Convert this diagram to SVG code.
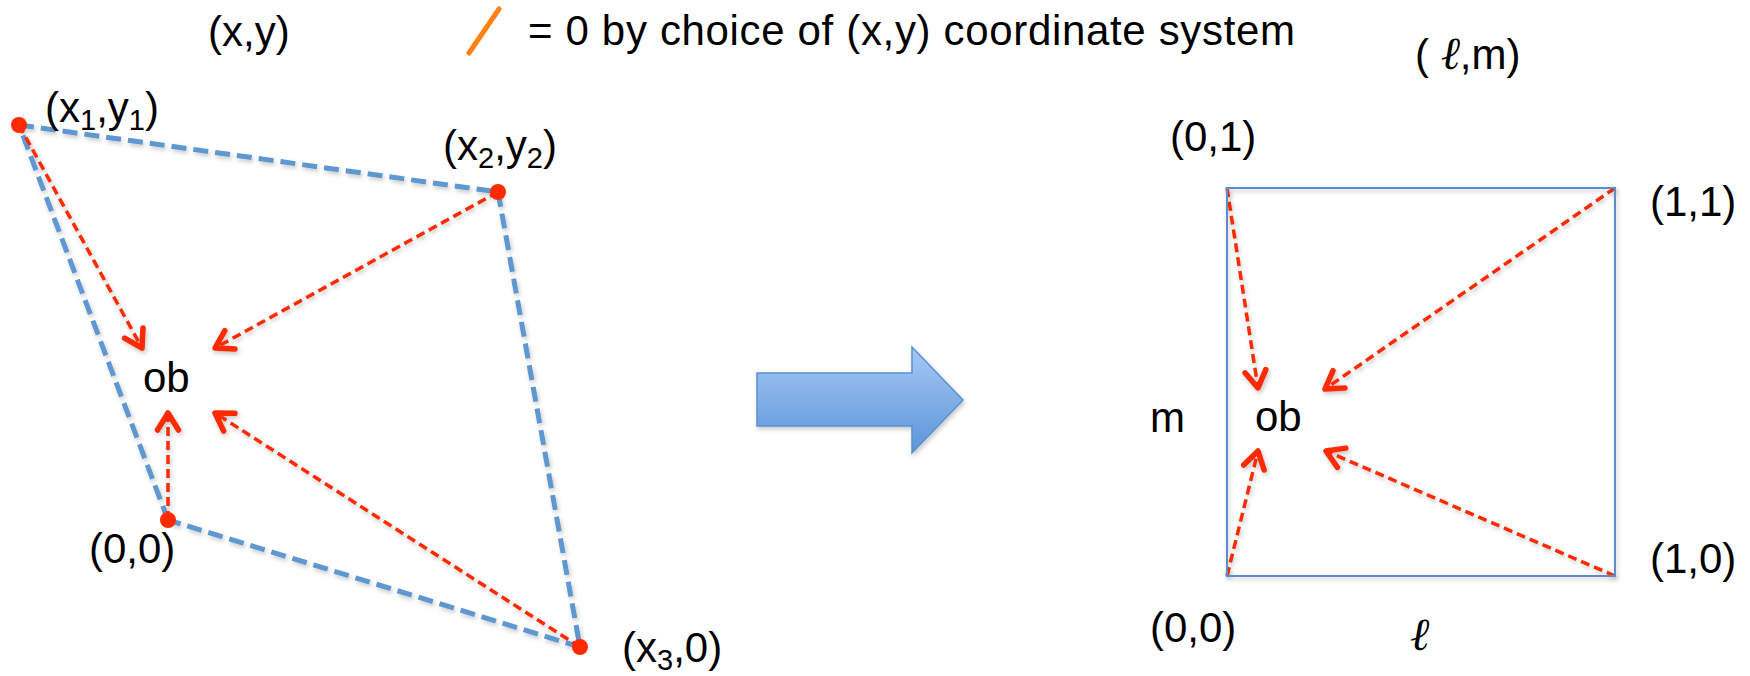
<svg xmlns="http://www.w3.org/2000/svg" width="1750" height="676" viewBox="0 0 1750 676">
<style>
  text { font-family: "Liberation Sans", Arial, sans-serif; font-size: 42px; fill: #000; }
  .sub { font-size: 29px; }
  .ell { font-family: "DejaVu Serif", "Liberation Serif", serif; font-style: italic; font-size: 46px; }
  .quad { fill: none; stroke: #5f97d0; stroke-width: 5; stroke-dasharray: 15 7; }
  .arr { fill: none; stroke: #ff2a00; stroke-width: 3.5; stroke-dasharray: 9 5; marker-end: url(#ah); }
  .dot { fill: #ff2a00; }
</style>
<defs>
  <marker id="ah" viewBox="-24 -16 32 32" refX="0" refY="0" markerWidth="32" markerHeight="32" markerUnits="userSpaceOnUse" orient="auto">
    <path d="M-17,-10.5 L0,0 L-17,10.5" fill="none" stroke="#ff2a00" stroke-width="5.5" stroke-linecap="round" stroke-linejoin="round"/>
  </marker>
  <linearGradient id="bg" x1="0" y1="0" x2="0" y2="1">
    <stop offset="0" stop-color="#a6c8f5"/>
    <stop offset="1" stop-color="#5a96d9"/>
  </linearGradient>
  <filter id="sh" filterUnits="userSpaceOnUse" x="0" y="0" width="1750" height="676">
    <feDropShadow dx="1.5" dy="2.5" stdDeviation="2" flood-color="#000" flood-opacity="0.22"/>
  </filter>
</defs>

<rect width="1750" height="676" fill="#fff"/>

<g id="legend">
  <text x="208" y="46">(x,y)</text>
  <path d="M469,53 L499,9" fill="none" stroke="#ff8214" stroke-width="5" stroke-linecap="round"/>
  <text x="528" y="45" textLength="767" lengthAdjust="spacing">= 0 by choice of (x,y) coordinate system</text>
  <text x="1415" y="69">( <tspan class="ell">ℓ</tspan>,m)</text>
</g>

<g id="connectors" filter="url(#sh)">
  <g id="quadrilateral">
    <line class="quad" x1="19" y1="125" x2="498" y2="192"/>
    <line class="quad" x1="498" y1="192" x2="580" y2="647"/>
    <line class="quad" x1="580" y1="647" x2="168" y2="520"/>
    <line class="quad" x1="168" y1="520" x2="19" y2="125"/>
  </g>
  <line class="arr" x1="19" y1="125" x2="142" y2="348"/>
  <line class="arr" x1="498" y1="192" x2="215" y2="348"/>
  <line class="arr" x1="168" y1="520" x2="168" y2="413"/>
  <line class="arr" x1="580" y1="647" x2="215" y2="413"/>
  <line class="arr" x1="1227" y1="188" x2="1258" y2="388"/>
  <line class="arr" x1="1615" y1="188" x2="1325" y2="389"/>
  <line class="arr" x1="1227" y1="576" x2="1258" y2="451"/>
  <line class="arr" x1="1615" y1="576" x2="1326" y2="451"/>
</g>

<g id="node-x1y1">
  <circle class="dot" cx="19" cy="125" r="8"/>
  <text x="45" y="122">(x<tspan class="sub" dy="8">1</tspan><tspan dy="-8">,y</tspan><tspan class="sub" dy="8">1</tspan><tspan dy="-8">)</tspan></text>
</g>
<g id="node-x2y2">
  <circle class="dot" cx="498" cy="192" r="8"/>
  <text x="443" y="160">(x<tspan class="sub" dy="8">2</tspan><tspan dy="-8">,y</tspan><tspan class="sub" dy="8">2</tspan><tspan dy="-8">)</tspan></text>
</g>
<g id="node-origin-left">
  <circle class="dot" cx="168" cy="520" r="8"/>
  <text x="89" y="563">(0,0)</text>
</g>
<g id="node-x30">
  <circle class="dot" cx="580" cy="647" r="8"/>
  <text x="622" y="662">(x<tspan class="sub" dy="8">3</tspan><tspan dy="-8">,0)</tspan></text>
</g>
<g id="node-ob-left">
  <text x="143" y="392">ob</text>
</g>

<g id="transform-arrow">
  <path d="M757,373 H912 V347 L963,400 L912,453 V426 H757 Z" fill="url(#bg)" stroke="#5b8fd0" stroke-width="1.5" filter="url(#sh)"/>
</g>

<g id="unit-square">
  <rect x="1227" y="188" width="388" height="388" fill="none" stroke="#5b8ccb" stroke-width="2" filter="url(#sh)"/>
  <text x="1150" y="432">m</text>
  <text class="ell" x="1410" y="650">ℓ</text>
</g>
<g id="node-01"><text x="1170" y="151">(0,1)</text></g>
<g id="node-11"><text x="1650" y="216">(1,1)</text></g>
<g id="node-10"><text x="1650" y="573">(1,0)</text></g>
<g id="node-00-right"><text x="1150" y="642">(0,0)</text></g>
<g id="node-ob-right"><text x="1255" y="431">ob</text></g>
</svg>
